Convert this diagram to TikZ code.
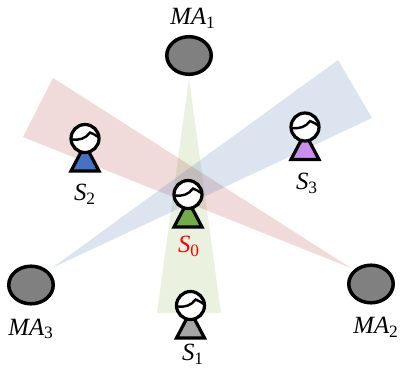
\documentclass[tikz,border=0pt]{standalone}
\usepackage{fontspec}
\setmainfont{Liberation Serif}
\usetikzlibrary{shapes.geometric}
\definecolor{beamred}{HTML}{B44646}
\definecolor{beamblue}{HTML}{4D77B0}
\definecolor{beamgreen}{HTML}{98BC60}
\definecolor{bodygreen}{HTML}{70AD47}
\definecolor{bodyblue}{HTML}{4472C4}
\definecolor{bodypurple}{HTML}{CC8EEE}
\definecolor{bodygrey}{HTML}{A6A6A6}

\begin{document}
\begin{tikzpicture}[x=0.686pt,y=-0.686pt,font=\fontsize{17}{18}\selectfont]
  \tikzset{
    beam/.style={
      draw=none,
      fill opacity=0.2
    },
    antenna/.style={
      draw,
      ellipse,
      fill=black!50,
      line width=2.4pt,
      inner sep=0pt,
      minimum width=30.5pt,
      minimum height=25.8pt
    },
    head/.style={
      draw,
      circle,
      fill=white,
      line width=2.2pt,
      inner sep=0pt,
      minimum size=19.2pt
    },
    pics/person/.style={
      code={
        \draw[line width=2.2pt,fill=#1] (-14,32.5) -- (0,6) -- (14,32.5) -- cycle;
        \node[head] (-head) at (0,0) {};
        \draw[line width=1.65pt] (-13,1) .. controls (-6,2) and (1,0) .. (5,-6) .. controls (8,-5) and (11,-3) .. (14,-1);
      }
    }
  }
  \useasboundingbox (0,0) rectangle (400,372);

  \node[antenna] (ma1) at (189,55.5) {};
  \node[antenna] (ma2) at (371,284) {};
  \node[antenna] (ma3) at (31,285) {};

  \coordinate (greenapex) at (189,78);
  \coordinate (greenleft) at (157,313);
  \coordinate (greenright) at (221,313);
  \coordinate (redapex) at (351,268);
  \coordinate (redtop) at (53,78);
  \coordinate (redbottom) at (23,137);
  \coordinate (blueapex) at (52,268);
  \coordinate (bluetop) at (338,60);
  \coordinate (bluebottom) at (372,118);

  \fill[beam,beamgreen] (greenapex) -- (greenleft) -- (greenright) -- cycle;
  \fill[beam,beamred] (redapex) -- (redtop) -- (redbottom) -- cycle;
  \fill[beam,beamblue] (blueapex) -- (bluetop) -- (bluebottom) -- cycle;

  \pic (s0) at (188,194.5) {person=bodygreen};
  \pic (s1) at (190.5,305.5) {person=bodygrey};
  \pic (s2) at (85,138.5) {person=bodyblue};
  \pic (s3) at (305,127) {person=bodypurple};

  \node (ma1label) at (193,18) {\textit{MA}\textsubscript{1}};
  \node (ma2label) at (376,327) {\textit{MA}\textsubscript{2}};
  \node (ma3label) at (31,329) {\textit{MA}\textsubscript{3}};
  \node[red] (s0label) at (189,246) {\textit{S}\textsubscript{0}};
  \node (s1label) at (193,354) {\textit{S}\textsubscript{1}};
  \node (s2label) at (85,194) {\textit{S}\textsubscript{2}};
  \node (s3label) at (307,183) {\textit{S}\textsubscript{3}};
\end{tikzpicture}
\end{document}
